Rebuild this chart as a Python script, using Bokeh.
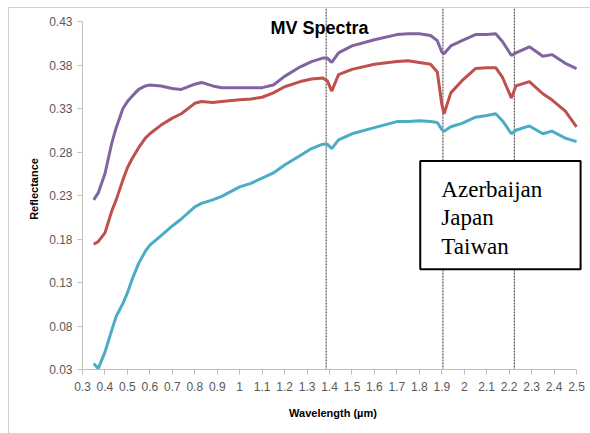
from bokeh.plotting import figure
from bokeh.models import FixedTicker, BoxAnnotation, Label, Range1d
from bokeh.embed import file_html
from bokeh.resources import INLINE

# ---- data ----
wavelength = [0.35, 0.37, 0.40, 0.43, 0.45, 0.48, 0.50, 0.52, 0.55, 0.58, 0.60, 0.65, 0.70,
              0.74, 0.80, 0.83, 0.88, 0.92, 1.00, 1.05, 1.10, 1.15, 1.20, 1.27, 1.32, 1.37,
              1.39, 1.41, 1.44, 1.50, 1.60, 1.70, 1.75, 1.80, 1.85, 1.88, 1.90, 1.91, 1.94,
              1.99, 2.05, 2.10, 2.14, 2.17, 2.21, 2.23, 2.29, 2.35, 2.39, 2.45, 2.50]

purple_vals = [0.225, 0.233, 0.255, 0.290, 0.308, 0.330, 0.338, 0.344, 0.352, 0.356, 0.357,
               0.356, 0.353, 0.352, 0.358, 0.360, 0.356, 0.354, 0.354, 0.354, 0.354, 0.357,
               0.367, 0.378, 0.384, 0.388, 0.388, 0.383, 0.394, 0.402, 0.409, 0.415, 0.416,
               0.416, 0.414, 0.408, 0.395, 0.393, 0.402, 0.408, 0.415, 0.415, 0.416, 0.407,
               0.391, 0.394, 0.401, 0.390, 0.392, 0.382, 0.376]

red_vals = [0.174, 0.177, 0.187, 0.212, 0.225, 0.248, 0.262, 0.272, 0.285, 0.296, 0.301,
            0.311, 0.319, 0.324, 0.336, 0.338, 0.337, 0.338, 0.340, 0.341, 0.343, 0.348,
            0.355, 0.361, 0.364, 0.365, 0.362, 0.350, 0.369, 0.375, 0.381, 0.384, 0.385,
            0.383, 0.381, 0.372, 0.335, 0.324, 0.348, 0.362, 0.376, 0.377, 0.377, 0.366,
            0.342, 0.356, 0.361, 0.347, 0.340, 0.327, 0.309]

cyan_vals = [0.037, 0.031, 0.050, 0.075, 0.091, 0.106, 0.118, 0.133, 0.152, 0.166, 0.173,
             0.184, 0.195, 0.203, 0.217, 0.221, 0.225, 0.229, 0.240, 0.244, 0.250, 0.256,
             0.265, 0.276, 0.284, 0.289, 0.289, 0.284, 0.294, 0.301, 0.308, 0.315, 0.315,
             0.316, 0.315, 0.314, 0.306, 0.304, 0.309, 0.313, 0.320, 0.322, 0.324, 0.316,
             0.301, 0.305, 0.310, 0.301, 0.304, 0.296, 0.292]

vlines = [1.385, 1.905, 2.223]

x_ticks = [0.3, 0.4, 0.5, 0.6, 0.7, 0.8, 0.9, 1.0, 1.1, 1.2, 1.3, 1.4, 1.5, 1.6, 1.7, 1.8,
           1.9, 2.0, 2.1, 2.2, 2.3, 2.4, 2.5]
x_tick_labels = ["0.3", "0.4", "0.5", "0.6", "0.7", "0.8", "0.9", "1", "1.1", "1.2", "1.3",
                 "1.4", "1.5", "1.6", "1.7", "1.8", "1.9", "2", "2.1", "2.2", "2.3", "2.4", "2.5"]
y_ticks = [0.03, 0.08, 0.13, 0.18, 0.23, 0.28, 0.33, 0.38, 0.43]
y_tick_labels = ["0.03", "0.08", "0.13", "0.18", "0.23", "0.28", "0.33", "0.38", "0.43"]

legend_labels = ["Azerbaijan", "Japan", "Taiwan"]
title_text = "MV Spectra"
x_label = "Wavelength (µm)"
y_label = "Reflectance"

Y_TOP = 0.445
X_END = 2.531

# ---- figure ----
p = figure(width=582, height=426, output_backend="svg", toolbar_location=None,
           x_range=Range1d(x_ticks[0], X_END), y_range=Range1d(y_ticks[0], Y_TOP),
           min_border_left=73, min_border_right=8, min_border_top=0, min_border_bottom=65)
p.margin = (7, 0, 0, 8)
p.styles = {"border-left": "1px solid #d0d0d0", "border-top": "1px solid #d0d0d0"}
p.outline_line_color = None
p.xgrid.visible = False
p.ygrid.visible = False
p.background_fill_color = "white"
p.border_fill_color = "white"

# vertical dashed markers
p.segment(x0=vlines, x1=vlines, y0=[Y_TOP] * len(vlines), y1=[y_ticks[0]] * len(vlines),
          line_color="#333333", line_width=1, line_dash="2 1")

# spectra
p.line(wavelength, purple_vals, line_color="#8064A2", line_width=3)
p.line(wavelength, red_vals, line_color="#C0504D", line_width=3)
p.line(wavelength, cyan_vals, line_color="#4BACC6", line_width=3)

# axes
for ax in (p.xaxis[0], p.yaxis[0]):
    ax.axis_line_color = "#bfbfbf"
    ax.major_tick_line_color = "#bfbfbf"
    ax.minor_tick_line_color = None
    ax.major_tick_in = 0
    ax.major_tick_out = 5
    ax.major_label_text_font = "Liberation Sans"
    ax.major_label_text_font_size = "12px"
    ax.major_label_text_color = "#595959"
    ax.axis_label_text_font = "Liberation Sans"
    ax.axis_label_text_font_size = "11px"
    ax.axis_label_text_font_style = "bold"
    ax.axis_label_text_color = "#000000"

p.xaxis.ticker = FixedTicker(ticks=x_ticks)
p.xaxis.major_label_overrides = dict(zip(x_ticks, x_tick_labels))
p.xaxis.bounds = (x_ticks[0], x_ticks[-1])
p.xaxis.major_label_standoff = 7
p.xaxis.axis_label = x_label
p.xaxis.axis_label_standoff = 13

p.yaxis.ticker = FixedTicker(ticks=y_ticks)
p.yaxis.major_label_overrides = dict(zip(y_ticks, y_tick_labels))
p.yaxis.bounds = (y_ticks[0], y_ticks[-1])
p.yaxis.major_label_standoff = 5
p.yaxis.axis_label = y_label
p.yaxis.axis_label_standoff = 6

# title as text inside the plot area
p.add_layout(Label(x=1.355, y=0.4225, text=title_text, text_align="center",
                   text_baseline="alphabetic", text_font="Liberation Sans",
                   text_font_size="18px", text_font_style="bold", text_color="black"))

# legend box
p.add_layout(BoxAnnotation(left=1.804, right=2.518, bottom=0.1453, top=0.2698,
                           fill_color="white", fill_alpha=1.0,
                           line_color="black", line_alpha=1.0, line_width=2))
for lab, yy in zip(legend_labels, [0.2375, 0.2045, 0.1715]):
    p.add_layout(Label(x=1.898, y=yy, text=lab, text_align="left",
                       text_baseline="alphabetic", text_font="Liberation Serif",
                       text_font_size="23px", text_color="black"))

open("out.html", "w").write(file_html(p, INLINE))
